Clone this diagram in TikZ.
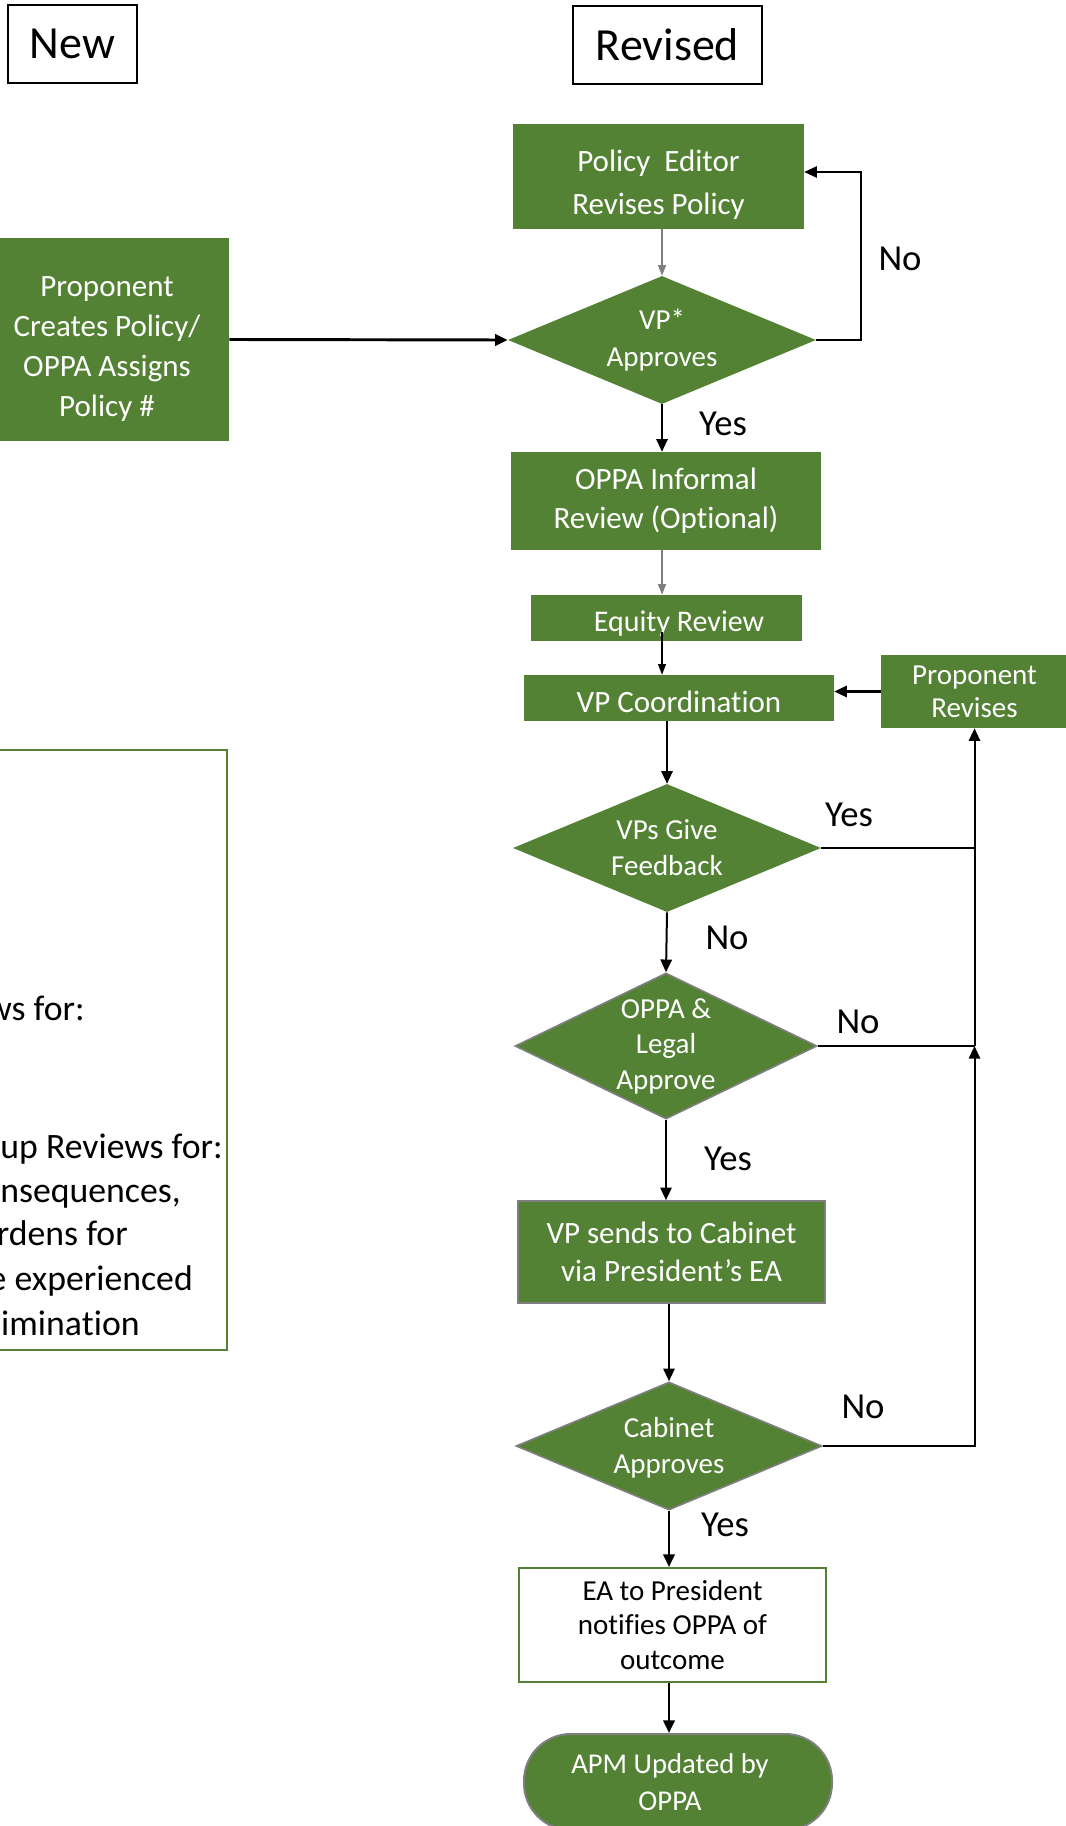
\documentclass[tikz,border=0pt]{standalone}
\usepackage{fontspec}
\setmainfont{Carlito}[Ligatures={NoCommon,NoContextual},Contextuals={NoAlternate}]
\usetikzlibrary{arrows.meta,shapes.geometric,calc}
\definecolor{grn}{RGB}{84,130,53}
\definecolor{gry}{RGB}{127,127,127}
\newcommand\fz[2]{\fontsize{#1}{#2}\selectfont}
\begin{document}
\begin{tikzpicture}[x=0.75pt,y=-0.75pt,
  gbox/.style={rectangle,fill=grn,draw=none,text=white,align=center,inner sep=0pt},
  wtx/.style={text=white,align=center,inner sep=0pt},
  dia/.style={diamond,fill=grn,inner sep=0pt},
  hdr/.style={rectangle,draw=black,line width=1.1pt,inner sep=0pt,font=\fz{34.5}{40}},
  lbl/.style={inner sep=0pt,font=\fz{27.5}{30}},
  note/.style={inner sep=0pt,anchor=base east,font=\fz{26.8}{30}},
  arr/.style={-{Triangle[length=9.5pt,width=8.5pt]},line width=1.5pt,black},
  tarr/.style={-{Triangle[length=8pt,width=6pt]},line width=0.9pt,black},
  garr/.style={-{Triangle[length=8pt,width=6pt]},line width=1.1pt,draw=gry},
  plain/.style={line width=1.5pt,black}
]
\useasboundingbox (0,0) rectangle (1066,1826);

% headers
\node[hdr,minimum width=96.75pt,minimum height=58.5pt] (new) at (72.5,44) {New};
\node[hdr,minimum width=141.75pt,minimum height=58.5pt] (rev) at (667.5,45) {Revised};

% boxes
\node[gbox,minimum width=218.25pt,minimum height=78.75pt] (pe) at (658.5,176.5) {};
\node[wtx,font=\fz{23.25}{32}] (pet) at (658.5,185) {Policy\ \ Editor\\Revises Policy};
\node[gbox,minimum width=183pt,minimum height=152.25pt] (pc) at (107,339.5) {};
\node[wtx,font=\fz{23.25}{30}] (pct) at (107,349) {Proponent\\Creates Policy/\\OPPA Assigns\\Policy \#};
\node[gbox,minimum width=232.5pt,minimum height=73.5pt,font=\fz{23.25}{29}] (oi) at (666,501) {OPPA Informal\\Review (Op{}tional)};
\node[gbox,minimum width=203.25pt,minimum height=34.5pt] (eq) at (666.5,618) {};
\node[wtx,font=\fz{22.5}{27}] (eqt) at (679,624) {Equity Review};
\node[gbox,minimum width=232.5pt,minimum height=34.5pt] (vc) at (679,698) {};
\node[wtx,font=\fz{23.25}{28}] (vct) at (679,702) {VP Coordination};
\node[gbox,minimum width=140.25pt,minimum height=54.75pt,font=\fz{21.75}{24.75}] (pr) at (974.5,691.5) {Proponent\\Revises};
\node[gbox,draw=gry,line width=1.2pt,minimum width=230.25pt,minimum height=76.5pt,font=\fz{23.25}{28.5}] (vs) at (671.5,1252) {VP sends to Cabinet\\via President’s EA};
\node[rectangle,fill=white,draw=grn,line width=1.5pt,align=center,inner sep=0pt,minimum width=230.25pt,minimum height=85.5pt,font=\fz{21.75}{26}] (ea) at (672.5,1625) {EA to President\\notifies OPPA of\\outcome};
\node[rectangle,rounded corners=35pt,fill=grn,draw=gry,line width=1.5pt,inner sep=0pt,minimum width=231pt,minimum height=72pt] (ap) at (678,1782) {};
\node[wtx,font=\fz{21.5}{27.75}] (apt) at (670,1782) {APM Updated by\\OPPA};

% left note box
\node[rectangle,draw=grn,line width=1.2pt,minimum width=177.75pt,minimum height=450pt,inner sep=0pt] (nb) at (108.5,1050) {};
\node[note] (n1) at (85,1020) {ws for:};
\node[note] (n2) at (223,1158) {up Reviews for:};
\node[note] (n3) at (181,1202) {onsequences,};
\node[note] (n4) at (128,1245) {rdens for};
\node[note] (n5) at (193,1290) {e experienced};
\node[note] (n6) at (140,1335) {imina\kern0pt tion};

% diamonds
\node[dia,minimum width=231pt,minimum height=96pt] (d1) at (662,340) {};
\node[wtx,font=\fz{21.75}{27.75}] (d1t) at (d1.center) {VP*\\Approves};
\node[dia,minimum width=231pt,minimum height=96pt] (d2) at (667,848) {};
\node[wtx,font=\fz{21.75}{27}] (d2t) at (d2.center) {VPs Give\\Feedback};
\node[dia,draw=gry,line width=1.2pt,minimum width=226.5pt,minimum height=109.5pt] (d3) at (666,1046) {};
\node[wtx,font=\fz{21.75}{26.6}] (d3t) at (d3.center) {OPPA \&\\Legal\\Approve};
\node[dia,draw=gry,line width=1.2pt,minimum width=229.5pt,minimum height=96pt] (d4) at (669,1446) {};
\node[wtx,font=\fz{21.75}{27}] (d4t) at ([yshift=-1.5pt]d4.center) {Cabinet\\Approves};

% labels
\node[lbl] (l1) at (900,259) {No};
\node[lbl] (l2) at (723,424) {Yes};
\node[lbl] (l3) at (849,815) {Yes};
\node[lbl] (l4) at (727,938) {No};
\node[lbl] (l5) at (858,1022) {No};
\node[lbl] (l6) at (728,1159) {Yes};
\node[lbl] (l7) at (863,1407) {No};
\node[lbl] (l8) at (725,1525) {Yes};

% helper coordinates
\coordinate (c1) at (861,172);
\coordinate (j1) at (d2.east -| pr.south);
\coordinate (j2) at (d3.east -| pr.south);
\coordinate (j3) at (d4.east -| pr.south);

% connectors
\draw[arr,line width=2.2pt] (pc.east) -- (d1.west);
\draw[garr] (pe.south -| d1.north) -- (d1.north);
\draw[arr] (d1.east) -| (c1) -- (c1 -| pe.east);
\draw[arr] (d1.south) -- (d1.south |- oi.north);
\draw[garr] (oi.south -| d1.south) -- (eq.north -| d1.south);
\draw[tarr] (eq.south -| d1.south) ++(0,-9) -- (vc.north -| d1.south);
\draw[arr,line width=1.8pt] (pr.west) -- (pr.west -| vc.east);
\draw[arr] (vc.south -| d2.north) -- (d2.north);
\draw[plain] (d2.east) -- (j1);
\draw[arr] (d2.south) -- (d3.north);
\draw[plain] (d3.east) -- (j2);
\draw[arr] (d3.south) -- (d3.south |- vs.north);
\draw[arr] (vs.south -| d4.north) -- (d4.north);
\draw[arr] (d4.east) -- (j3) -- (j2);
\draw[arr] (j2) -- (pr.south);
\draw[arr,line width=2pt] (d4.south) -- (d4.south |- ea.north);
\draw[arr,line width=2pt] (ea.south -| d4.south) -- (ap.north -| d4.south);
\end{tikzpicture}
\end{document}
